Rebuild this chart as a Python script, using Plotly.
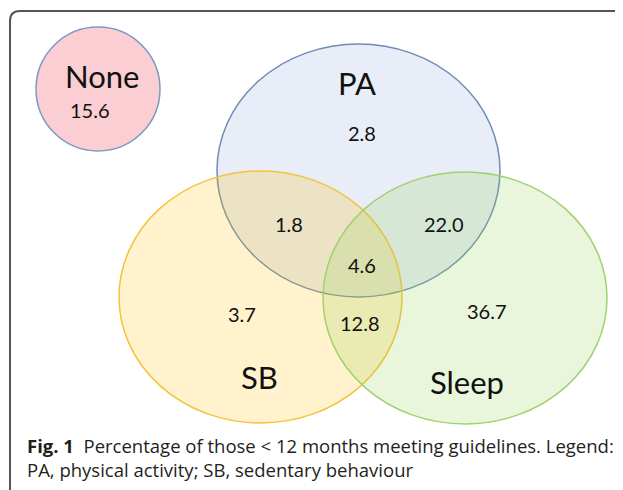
import plotly.graph_objects as go

# ---- data ----
set_names = ["PA", "SB", "Sleep"]
region_names = ["PA only", "SB only", "Sleep only", "PA & SB", "PA & Sleep",
                "SB & Sleep", "PA & SB & Sleep", "None"]
region_values = [2.8, 3.7, 36.7, 1.8, 22.0, 12.8, 4.6, 15.6]
caption_bold = "Fig. 1"
caption_text = ("Percentage of those < 12 months meeting guidelines. Legend:<br>"
                "PA, physical activity; SB, sedentary behaviour")

# ---- layout (window pixel space; page body has an 8px margin) ----
W, H = 623, 490
OFF = 8
circles = {  # x0, y0, x1, y1, fill, line
    "None": (36, 27, 160, 151, "rgb(250,206,210)", "rgb(125,153,195)"),
    "PA": (217, 44, 500, 297, "rgba(140,165,215,0.2)", "rgb(110,140,182)"),
    "SB": (119, 171, 402, 423, "rgba(255,192,0,0.2)", "rgb(244,194,60)"),
    "Sleep": (323, 172, 607, 424, "rgba(146,208,80,0.2)", "rgb(160,210,110)"),
}
set_label_pos = {"None": (101.5, 76), "PA": (357, 83), "SB": (259, 377), "Sleep": (467, 382)}
region_pos = [(362, 132.5), (242, 314), (487, 311), (289, 224), (444, 224),
              (360, 323), (361.5, 265), (90, 109.5)]

fig = go.Figure()
shapes = []
# frame
shapes.append(dict(type="path", path=f"M 10,{H} L 10,21 Q 10,11 20,11 L {W},11",
                   line=dict(color="#555555", width=2), layer="above"))
for name in ["None", "PA", "SB", "Sleep"]:
    x0, y0, x1, y1, fc, lc = circles[name]
    shapes.append(dict(type="circle", x0=x0, y0=y0, x1=x1, y1=y1,
                       fillcolor=fc, line=dict(color=lc, width=1.5), layer="below"))

annotations = []
font_main = "Lato, Calibri, Carlito, sans-serif"
for name, (x, y) in set_label_pos.items():
    annotations.append(dict(x=x, y=y, text=name, showarrow=False, xanchor="center",
                            yanchor="middle", font=dict(family=font_main, size=31, color="#111111")))
for name, v, (x, y) in zip(region_names, region_values, region_pos):
    annotations.append(dict(x=x, y=y, text=f"{v:.1f}", showarrow=False, xanchor="center",
                            yanchor="middle", font=dict(family=font_main, size=20, color="#111111")))
annotations.append(dict(x=25, y=431, xanchor="left", yanchor="top", align="left",
                        text=f"<b>{caption_bold}</b>&nbsp;&nbsp;{caption_text}", showarrow=False,
                        font=dict(family="Open Sans, sans-serif", size=18.5, color="#231f20")))

fig.update_layout(
    width=W - OFF, height=H - OFF, margin=dict(l=0, r=0, t=0, b=0),
    paper_bgcolor="white", plot_bgcolor="white",
    xaxis=dict(range=[OFF, W], visible=False, fixedrange=True),
    yaxis=dict(range=[H, OFF], visible=False, fixedrange=True),
    shapes=shapes, annotations=annotations, showlegend=False,
)
fig.write_html("out.html")
